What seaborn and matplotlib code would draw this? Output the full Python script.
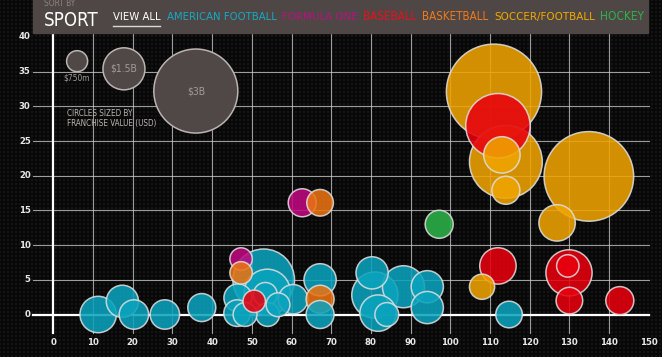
import matplotlib
matplotlib.use("Agg")
import matplotlib.pyplot as plt
from matplotlib.patches import Rectangle
import numpy as np
import pandas as pd
import seaborn as sns

# franchise bubbles: sport, x, y, franchise value in $B
sport = (["American Football"] * 24 + ["Formula One"] * 2 + ["Baseball"] * 7
         + ["Basketball"] * 3 + ["Soccer/Football"] * 7 + ["Hockey"])
x_val = [11.3, 17.4, 20.3, 28.1, 37.4, 53.0, 53.9, 46.5, 53.4, 46.3, 48.3, 54.0,
         56.6, 60.4, 67.2, 67.2, 80.3, 81.0, 88.2, 94.2, 94.2, 81.8, 84.0, 114.8,
         62.7, 47.3,
         50.6, 112.0, 112.0, 129.9, 129.6, 130.0, 142.7,
         67.2, 47.3, 67.2,
         111.0, 114.0, 113.0, 114.0, 134.9, 126.9, 108.0,
         97.2]
y_val = [0.0, 1.9, 0.0, 0.0, 1.0, 5.0, 3.2, 2.4, 2.9, 0.2, 0.0, 0.0,
         1.4, 2.2, 5.0, 0.0, 6.0, 2.8, 4.0, 4.0, 1.0, 0.2, 0.0, 0.0,
         16.1, 8.0,
         1.9, 27.2, 7.0, 6.0, 7.0, 2.0, 2.0,
         16.1, 6.0, 2.2,
         32.1, 22.0, 23.0, 17.9, 19.9, 13.2, 4.0,
         13.0]
value_b = [1.3, 1.15, 1.05, 1.05, 1.0, 2.2, 1.65, 1.0, 0.85, 0.95, 0.85, 0.85,
           0.85, 1.05, 1.15, 1.0, 1.15, 1.65, 1.5, 1.15, 1.15, 1.3, 0.85, 0.95,
           1.0, 0.8,
           0.8, 2.3, 1.3, 1.65, 0.8, 0.95, 1.0,
           0.95, 0.8, 1.0,
           3.4, 2.6, 1.3, 1.0, 3.2, 1.3, 0.9,
           1.0]

sports = ["American Football", "Formula One", "Baseball", "Basketball",
          "Soccer/Football", "Hockey"]
sport_colors = ["#0aa3bd", "#c0087f", "#e8000e", "#ec7412", "#f0a400", "#2cb34a"]
header_colors = ["#17a9c6", "#b8127f", "#e8101c", "#ee7a1c", "#f2a900", "#2cb34a"]
header_labels = ["AMERICAN FOOTBALL", "FORMULA ONE", "BASEBALL", "BASKETBALL",
                 "SOCCER/FOOTBALL", "HOCKEY"]

legend_vals = [0.75, 1.5, 3.0]
legend_x = [6.0, 17.8, 35.9]
legend_y = [36.5, 35.4, 32.2]
legend_txt = ["$750m", "$1.5B", "$3B"]

x_ticks = list(range(0, 151, 10))
y_ticks = list(range(0, 41, 5))

W, H, DPI = 662, 357, 100
PX_PER_B = 14.0  # bubble radius in pixels per $1B
XLIM = ((0 - 53.3) / 3.97, (W - 53.3) / 3.97)
YLIM = ((314.5 - H) / 6.94, 314.5 / 6.94)


def area(v):
    d_pt = 2 * PX_PER_B * np.asarray(v) * 72 / DPI
    return d_pt ** 2


narrow = ["Liberation Sans Narrow", "DejaVu Sans"]
cond = dict(family=narrow, fontstretch="condensed")

df = pd.DataFrame({"sport": sport, "x": x_val, "y": y_val, "value": value_b})
df["area"] = area(df["value"])
df = df.sort_values("value", ascending=False)

fig = plt.figure(figsize=(W / DPI, H / DPI), dpi=DPI, facecolor="#0b0b0c")
ax = fig.add_axes([0, 0, 1, 1])

# dotted dark backdrop
yy, xx = np.mgrid[0:H, 0:W]
d = np.hypot((xx % 4) - 1.5, (yy % 4) - 1.5)
shade = np.where(d > 1.6, 0.085, 0.035)
ax.imshow(np.dstack([shade, shade, shade * 1.05]), extent=(*XLIM, *YLIM),
          aspect="auto", interpolation="nearest", zorder=0)

# grid
grid_c = "#cfcfcf"
for yv in y_ticks[1:-1]:
    ax.plot([-5.1, 150], [yv, yv], color=grid_c, lw=0.8, alpha=0.75, zorder=1)
for xv in x_ticks[1:-1]:
    ax.plot([xv, xv], [-2.7, 40.4], color=grid_c, lw=0.8, alpha=0.75, zorder=1)
ax.plot([-5.1, 150], [0, 0], color="white", lw=1.6, zorder=1)
ax.plot([0, 0], [-2.7, 40.4], color="white", lw=1.6, zorder=1)

for xv in x_ticks:
    ax.text(xv, -4.0, str(xv), color="#e8e8e8", fontsize=6.8, fontweight="bold",
            ha="center", va="center", **cond)
for yv in y_ticks:
    ax.text(-5.7, yv, str(yv), color="#e8e8e8", fontsize=6.8, fontweight="bold",
            ha="right", va="center", **cond)

# size legend
ax.scatter(legend_x, legend_y, s=area(legend_vals), color="#4f4846",
           edgecolor="#bcb4b1", linewidth=1.1, zorder=2)
ax.text(legend_x[0], legend_y[0] - 2.4, legend_txt[0], color="#a29a97",
        fontsize=6, ha="center", va="center", zorder=3, **cond)
for i in (1, 2):
    ax.text(legend_x[i], legend_y[i], legend_txt[i], color="#a29a97",
            fontsize=7.5, ha="center", va="center", zorder=3, **cond)
ax.text(3.4, 28.3, "CIRCLES SIZED BY\nFRANCHISE VALUE (USD)", color="#bdb5b2",
        fontsize=5.8, ha="left", va="center", linespacing=1.15,
        zorder=3, **cond)

# bubbles
amin, amax = df["area"].min(), df["area"].max()
sns.scatterplot(data=df, x="x", y="y", hue="sport",
                palette=dict(zip(sports, sport_colors)),
                size="area", sizes=(amin, amax), size_norm=(amin, amax),
                edgecolor="#dedede", linewidth=1.1, alpha=0.87,
                legend=False, ax=ax, zorder=4)
ax.set_xlim(*XLIM)
ax.set_ylim(*YLIM)
ax.axis("off")

# header bar
fig.add_artist(Rectangle((33 / W, 1 - 33 / H), 615 / W, 33 / H + 0.01,
                         transform=fig.transFigure, color="#4f4745", zorder=5))

renderer = fig.canvas.get_renderer()


def ftext(px, py, s, width=None, **kw):
    t = fig.text(px / W, 1 - py / H, s, zorder=6, va="baseline", **cond, **kw)
    if width:
        w = t.get_window_extent(renderer).width
        t.set_fontsize(t.get_fontsize() * width / w)
    return t


ftext(44, 6, "SORT BY", color="#8d8582", fontsize=6)
ftext(44, 26, "SPORT", width=55, color="white", fontsize=16)
ftext(113, 20, "VIEW ALL", width=47, color="white", fontsize=8.5)
fig.add_artist(plt.Line2D([113 / W, 160 / W], [1 - 26 / H, 1 - 26 / H],
                          color="#d8d8d8", lw=1, transform=fig.transFigure,
                          zorder=6))
starts = [167, 282, 363, 422, 494, 600]
widths = [109, 75, 53, 66, 100, 44]
for px, wd, lab, col in zip(starts, widths, header_labels, header_colors):
    ftext(px, 20, lab, width=wd, color=col, fontsize=8.5)

fig.savefig("out.png", dpi=DPI, facecolor=fig.get_facecolor())
